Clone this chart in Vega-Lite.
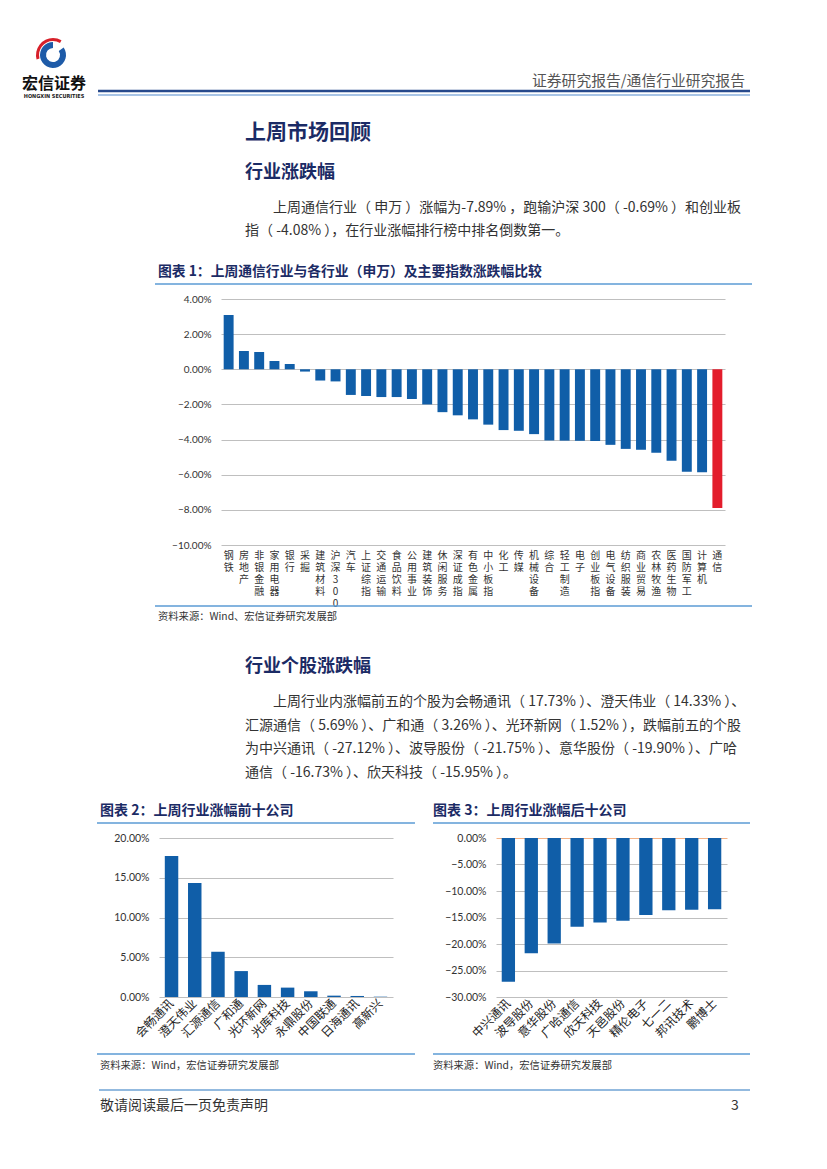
{
"$schema": "https://vega.github.io/schema/vega-lite/v6.json",
"padding": 0,
"background": "white",
"columns": 1,
"spacing": 0,
"bounds": "flush",
"align": {"row": "each", "column": "each"},
"config": {"view": {"stroke": null}, "font": "Noto Sans CJK SC"},
"concat": [
{"width":1,"height":40,"data":{"values":[]},"mark":"point"},

{"width":106,"height":30,
 "layer":[
  {"data":{"values":[{"part":"gap","v":55},{"part":"ring","v":305}]},
   "mark":{"type":"arc","innerRadius":7,"outerRadius":13},
   "encoding":{"theta":{"field":"v","type":"quantitative","stack":true},
     "color":{"condition":{"test":"datum.part === 'ring'","value":"#1E5BA8"},"value":"transparent"}}},
  {"data":{"values":[{"part":"red","v":30},{"part":"gap","v":225},{"part":"red","v":105}]},
   "mark":{"type":"arc","innerRadius":14,"outerRadius":17},
   "encoding":{"theta":{"field":"v","type":"quantitative","stack":true},
     "color":{"condition":{"test":"datum.part === 'red'","value":"#D7202A"},"value":"transparent"}}}
 ],
 "resolve":{"scale":{"theta":"independent"}}},

{"width":750,"height":28,
 "layer":[
  {"data":{"values":[{"t":"宏信证券"}]},"mark":{"type":"text","align":"center","baseline":"middle","fontSize":16,"fontWeight":"bold","color":"#111111"},
   "encoding":{"text":{"field":"t"},"x":{"datum":0.072,"type":"quantitative","scale":{"domain":[0,1]},"axis":null},"y":{"datum":0.5,"type":"quantitative","scale":{"domain":[0,1]},"axis":null}}},
  {"data":{"values":[{"t":"HONGXIN SECURITIES"}]},"mark":{"type":"text","align":"center","baseline":"middle","fontSize":5.5,"fontWeight":"bold","color":"#222222","font":"DejaVu Sans Condensed"},
   "encoding":{"text":{"field":"t"},"x":{"datum":0.072,"type":"quantitative","axis":null},"y":{"datum":0.0714,"type":"quantitative","axis":null}}},
  {"data":{"values":[{}]},"mark":{"type":"rule","color":"#27498C","strokeWidth":2.5},
   "encoding":{"x":{"datum":0.1307,"type":"quantitative","axis":null},"x2":{"datum":1},"y":{"datum":0.25,"type":"quantitative","axis":null}}},
  {"data":{"values":[{}]},"mark":{"type":"rule","color":"#A8C4E6","strokeWidth":2},
   "encoding":{"x":{"datum":0.1307,"type":"quantitative","axis":null},"x2":{"datum":1},"y":{"datum":0.107,"type":"quantitative","axis":null}}},
  {"data":{"values":[{"t":"证券研究报告/通信行业研究报告"}]},"mark":{"type":"text","align":"right","baseline":"middle","fontSize":14.8,"color":"#555555"},
   "encoding":{"text":{"field":"t"},"x":{"datum":0.9933,"type":"quantitative","axis":null},"y":{"datum":0.571,"type":"quantitative","axis":null}}}
 ]},

{"width":1,"height":24,"data":{"values":[]},"mark":"point"},
{"width":490,"height":22,"data":{"values":[{"t":"上周市场回顾"}]},"mark":{"type":"text","align":"left","baseline":"middle","fontSize":21,"fontWeight":"bold","color":"#1B2B65"},"encoding":{"text":{"field":"t"}}},
{"width":1,"height":18,"data":{"values":[]},"mark":"point"},
{"width":490,"height":22,"data":{"values":[{"t":"行业涨跌幅"}]},"mark":{"type":"text","align":"left","baseline":"middle","fontSize":18,"fontWeight":"bold","color":"#1B2B65"},"encoding":{"text":{"field":"t"}}},
{"width":1,"height":12,"data":{"values":[]},"mark":"point"},
{"width":546,"height":23,"data":{"values":[{"t":"上周通信行业（ 申万 ）涨幅为-7.89% ，跑输沪深 300（ -0.69% ）和创业板"}]},"mark":{"type":"text","align":"left","baseline":"middle","fontSize":14,"color":"#333333"},"encoding":{"text":{"field":"t"}}},
{"width":490,"height":23,"data":{"values":[{"t":"指（ -4.08% ），在行业涨幅排行榜中排名倒数第一。"}]},"mark":{"type":"text","align":"left","baseline":"middle","fontSize":14,"color":"#333333"},"encoding":{"text":{"field":"t"}}},
{"width":1,"height":24,"data":{"values":[]},"mark":"point"},
{"width":316,"height":12,"data":{"values":[{"t":"图表 1：上周通信行业与各行业（申万）及主要指数涨跌幅比较"}]},"mark":{"type":"text","align":"left","baseline":"middle","fontSize":13.8,"fontWeight":"bold","color":"#1B2B65"},"encoding":{"text":{"field":"t"}}},

{"width":752,"height":6,"data":{"values":[{}]},"mark":{"type":"rule","color":"#5B9BD5","strokeWidth":1.5},
 "encoding":{"x":{"datum":0.2061,"type":"quantitative","scale":{"domain":[0,1]},"axis":null},"x2":{"datum":1},"y":{"datum":0,"type":"quantitative","scale":{"domain":[0,1]},"axis":null}}},

{"width":1,"height":15,"data":{"values":[]},"mark":"point"},

{"width":725,"height":246,
 "data":{"values":[
  {"industry":"钢铁","change":3.09},
  {"industry":"房地产","change":1.04},
  {"industry":"非银金融","change":0.98},
  {"industry":"家用电器","change":0.47},
  {"industry":"银行","change":0.30},
  {"industry":"采掘","change":-0.13},
  {"industry":"建筑材料","change":-0.64},
  {"industry":"沪深300","change":-0.69},
  {"industry":"汽车","change":-1.46},
  {"industry":"上证综指","change":-1.52},
  {"industry":"交通运输","change":-1.58},
  {"industry":"食品饮料","change":-1.58},
  {"industry":"公用事业","change":-1.69},
  {"industry":"建筑装饰","change":-2.00},
  {"industry":"休闲服务","change":-2.44},
  {"industry":"深证成指","change":-2.62},
  {"industry":"有色金属","change":-2.85},
  {"industry":"中小板指","change":-3.15},
  {"industry":"化工","change":-3.46},
  {"industry":"传媒","change":-3.50},
  {"industry":"机械设备","change":-3.69},
  {"industry":"综合","change":-4.05},
  {"industry":"轻工制造","change":-4.06},
  {"industry":"电子","change":-4.07},
  {"industry":"创业板指","change":-4.08},
  {"industry":"电气设备","change":-4.30},
  {"industry":"纺织服装","change":-4.53},
  {"industry":"商业贸易","change":-4.58},
  {"industry":"农林牧渔","change":-4.75},
  {"industry":"医药生物","change":-5.20},
  {"industry":"国防军工","change":-5.83},
  {"industry":"计算机","change":-5.86},
  {"industry":"通信","change":-7.89}
 ]},
 "mark":{"type":"bar"},
 "encoding":{
  "x":{"field":"industry","type":"nominal","sort":null,"scale":{"range":[221,725],"paddingInner":0.35,"paddingOuter":0.175},
       "axis":{"title":null,"domain":false,"ticks":false,"labelAngle":0,"labelExpr":"split(datum.label,'')","labelFontSize":10,"labelLineHeight":12,"labelBaseline":"top","labelAlign":"center","labelPadding":5,"labelColor":"#333333","labelFont":"Noto Sans CJK SC"}},
  "y":{"field":"change","type":"quantitative","scale":{"domain":[-10,4]},
       "axis":{"title":null,"orient":"left","offset":-221,"values":[-10,-8,-6,-4,-2,0,2,4],"labelExpr":"format(datum.value,'.2f')+'%'","domain":false,"ticks":false,"grid":true,"gridColor":"#BFBFBF","labelPadding":10,"labelFont":"Lato","labelFontSize":10,"labelColor":"#333333"}},
  "color":{"condition":{"test":"datum.industry === '通信'","value":"#E31D2C"},"value":"#105EA8"}
 }},

{"width":752,"height":61,"data":{"values":[{}]},"mark":{"type":"rule","color":"#5B9BD5","strokeWidth":1.5},
 "encoding":{"x":{"datum":0.2061,"type":"quantitative","scale":{"domain":[0,1]},"axis":null},"x2":{"datum":1},"y":{"datum":0,"type":"quantitative","scale":{"domain":[0,1]},"axis":null}}},

{"width":316,"height":22,"data":{"values":[{"t":"资料来源：Wind、宏信证券研究发展部"}]},"mark":{"type":"text","align":"left","baseline":"middle","fontSize":10.3,"color":"#333333"},"encoding":{"text":{"field":"t"}}},
{"width":1,"height":28,"data":{"values":[]},"mark":"point"},
{"width":490,"height":22,"data":{"values":[{"t":"行业个股涨跌幅"}]},"mark":{"type":"text","align":"left","baseline":"middle","fontSize":18,"fontWeight":"bold","color":"#1B2B65"},"encoding":{"text":{"field":"t"}}},
{"width":1,"height":12,"data":{"values":[]},"mark":"point"},
{"width":546,"height":23.5,"data":{"values":[{"t":"上周行业内涨幅前五的个股为会畅通讯（ 17.73% ）、澄天伟业（ 14.33% ）、"}]},"mark":{"type":"text","align":"left","baseline":"middle","fontSize":14,"color":"#333333"},"encoding":{"text":{"field":"t"}}},
{"width":490,"height":70.5,"data":{"values":[
  {"n":1,"t":"汇源通信（ 5.69% ）、广和通（ 3.26% ）、光环新网（ 1.52% ），跌幅前五的个股"},
  {"n":2,"t":"为中兴通讯（ -27.12% ）、波导股份（ -21.75% ）、意华股份（ -19.90% ）、广哈"},
  {"n":3,"t":"通信（ -16.73% ）、欣天科技（ -15.95% ）。"}]},
 "mark":{"type":"text","align":"left","baseline":"middle","fontSize":14,"color":"#333333"},
 "encoding":{"text":{"field":"t"},"y":{"field":"n","type":"ordinal","axis":null}}},
{"width":1,"height":20,"data":{"values":[]},"mark":"point"},

{"width":750,"height":12,
 "layer":[
  {"data":{"values":[{"t":"图表 2：上周行业涨幅前十公司"}]},"mark":{"type":"text","align":"left","baseline":"middle","fontSize":14,"fontWeight":"bold","color":"#1B2B65"},
   "encoding":{"text":{"field":"t"},"x":{"datum":0.1333,"type":"quantitative","scale":{"domain":[0,1]},"axis":null}}},
  {"data":{"values":[{"t":"图表 3：上周行业涨幅后十公司"}]},"mark":{"type":"text","align":"left","baseline":"middle","fontSize":14,"fontWeight":"bold","color":"#1B2B65"},
   "encoding":{"text":{"field":"t"},"x":{"datum":0.5773,"type":"quantitative","axis":null}}}
 ]},

{"width":750,"height":6,"data":{"values":[{}]},
 "layer":[
  {"mark":{"type":"rule","color":"#5B9BD5","strokeWidth":1.5},"encoding":{"x":{"datum":0.1293,"type":"quantitative","scale":{"domain":[0,1]},"axis":null},"x2":{"datum":0.5533},"y":{"datum":0,"type":"quantitative","scale":{"domain":[0,1]},"axis":null}}},
  {"mark":{"type":"rule","color":"#5B9BD5","strokeWidth":1.5},"encoding":{"x":{"datum":0.5773,"type":"quantitative","axis":null},"x2":{"datum":1},"y":{"datum":0,"type":"quantitative","axis":null}}}
 ]},

{"width":1,"height":15,"data":{"values":[]},"mark":"point"},

{"width":727,"height":159,
 "layer":[
  {"data":{"values":[
    {"stock":"会畅通讯","change":17.73},
    {"stock":"澄天伟业","change":14.33},
    {"stock":"汇源通信","change":5.69},
    {"stock":"广和通","change":3.26},
    {"stock":"光环新网","change":1.52},
    {"stock":"光库科技","change":1.18},
    {"stock":"永鼎股份","change":0.72},
    {"stock":"中国联通","change":0.17},
    {"stock":"日海通讯","change":0.13},
    {"stock":"高新兴","change":0.04}
   ]},
   "mark":{"type":"bar","color":"#105EA8"},
   "encoding":{
    "x":{"field":"stock","type":"nominal","sort":null,"scale":{"range":[159,393],"paddingInner":0.42,"paddingOuter":0.25},
         "axis":{"title":null,"orient":"bottom","domain":false,"ticks":false,"labelAngle":-45,"labelAlign":"right","labelBaseline":"middle","labelPadding":4,"labelFontSize":12,"labelColor":"#222222","labelFont":"Noto Sans CJK SC"}},
    "y":{"field":"change","type":"quantitative","scale":{"domain":[0,20]},
         "axis":{"title":null,"orient":"left","offset":-159,"values":[0,5,10,15,20],"labelExpr":"format(datum.value,'.2f')+'%'","domain":false,"ticks":false,"grid":true,"gridColor":"#BFBFBF","labelPadding":10,"labelFont":"Lato","labelFontSize":10.5,"labelColor":"#333333"}}
   }},
  {"data":{"values":[
    {"stock":"中兴通讯","change":-27.12},
    {"stock":"波导股份","change":-21.75},
    {"stock":"意华股份","change":-19.90},
    {"stock":"广哈通信","change":-16.73},
    {"stock":"欣天科技","change":-15.95},
    {"stock":"天邑股份","change":-15.60},
    {"stock":"精伦电子","change":-14.55},
    {"stock":"七一二","change":-13.65},
    {"stock":"邦讯技术","change":-13.55},
    {"stock":"鹏博士","change":-13.45}
   ]},
   "mark":{"type":"bar","color":"#105EA8"},
   "encoding":{
    "x":{"field":"stock","type":"nominal","sort":null,"scale":{"range":[496,727],"paddingInner":0.42,"paddingOuter":0.25},
         "axis":{"title":null,"orient":"bottom","domain":false,"ticks":false,"labelAngle":-45,"labelAlign":"right","labelBaseline":"middle","labelPadding":4,"labelFontSize":12,"labelColor":"#222222","labelFont":"Noto Sans CJK SC"}},
    "y":{"field":"change","type":"quantitative","scale":{"domain":[-30,0]},
         "axis":{"title":null,"orient":"left","offset":-496,"values":[-30,-25,-20,-15,-10,-5,0],"labelExpr":"format(datum.value,'.2f')+'%'","domain":false,"ticks":false,"grid":true,"gridColor":{"condition":{"test":"datum.value === 0","value":"#F4B183"},"value":"#BFBFBF"},"labelPadding":10,"labelFont":"Lato","labelFontSize":10.5,"labelColor":"#333333"}}
   }}
 ],
 "resolve":{"scale":{"x":"independent","y":"independent"},"axis":{"x":"independent","y":"independent"}}},

{"width":750,"height":57,"data":{"values":[{}]},
 "layer":[
  {"mark":{"type":"rule","color":"#5B9BD5","strokeWidth":1.5},"encoding":{"x":{"datum":0.1293,"type":"quantitative","scale":{"domain":[0,1]},"axis":null},"x2":{"datum":0.5533},"y":{"datum":0,"type":"quantitative","scale":{"domain":[0,1]},"axis":null}}},
  {"mark":{"type":"rule","color":"#5B9BD5","strokeWidth":1.5},"encoding":{"x":{"datum":0.5773,"type":"quantitative","axis":null},"x2":{"datum":1},"y":{"datum":0,"type":"quantitative","axis":null}}}
 ]},

{"width":750,"height":24,
 "layer":[
  {"data":{"values":[{"t":"资料来源：Wind，宏信证券研究发展部"}]},"mark":{"type":"text","align":"left","baseline":"middle","fontSize":10.3,"color":"#333333"},
   "encoding":{"text":{"field":"t"},"x":{"datum":0.1333,"type":"quantitative","scale":{"domain":[0,1]},"axis":null}}},
  {"data":{"values":[{"t":"资料来源：Wind，宏信证券研究发展部"}]},"mark":{"type":"text","align":"left","baseline":"middle","fontSize":10.3,"color":"#333333"},
   "encoding":{"text":{"field":"t"},"x":{"datum":0.5773,"type":"quantitative","axis":null}}}
 ]},

{"width":750,"height":12,"data":{"values":[{}]},"mark":{"type":"rule","color":"#6FA3D4","strokeWidth":1.5},
 "encoding":{"x":{"datum":0.132,"type":"quantitative","scale":{"domain":[0,1]},"axis":null},"x2":{"datum":1},"y":{"datum":0,"type":"quantitative","scale":{"domain":[0,1]},"axis":null}}},

{"width":750,"height":32,
 "layer":[
  {"data":{"values":[{"t":"敬请阅读最后一页免责声明"}]},"mark":{"type":"text","align":"left","baseline":"middle","fontSize":14,"color":"#333333"},
   "encoding":{"text":{"field":"t"},"x":{"datum":0.1333,"type":"quantitative","scale":{"domain":[0,1]},"axis":null}}},
  {"data":{"values":[{"t":"3"}]},"mark":{"type":"text","align":"center","baseline":"middle","fontSize":14,"color":"#333333"},
   "encoding":{"text":{"field":"t"},"x":{"datum":0.98,"type":"quantitative","axis":null}}}
 ]}
]
}
